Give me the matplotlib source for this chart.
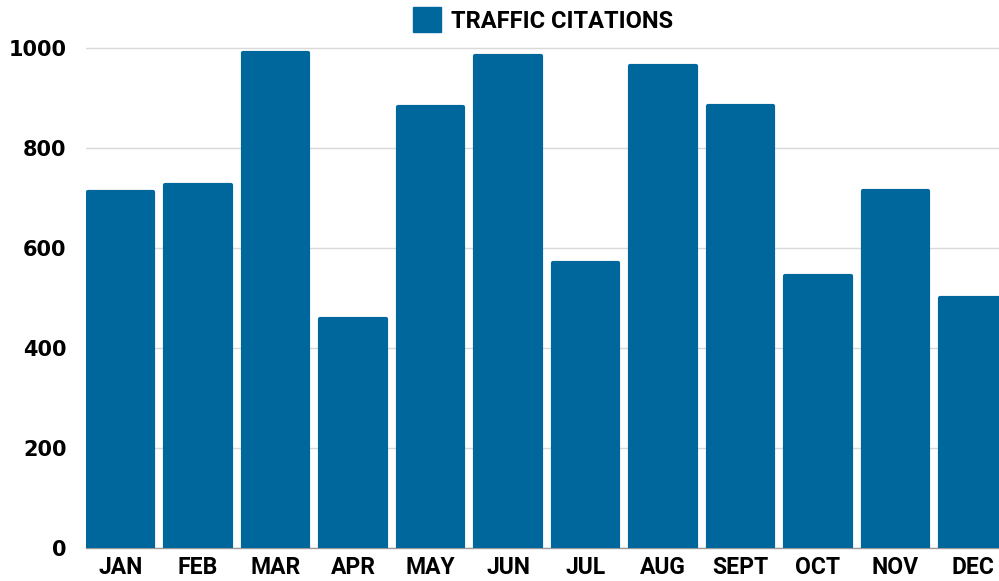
import matplotlib.pyplot as plt
from matplotlib.patches import Patch

months = ['JAN', 'FEB', 'MAR', 'APR', 'MAY', 'JUN', 'JUL', 'AUG', 'SEPT', 'OCT', 'NOV', 'DEC']
citations = [716, 730, 994, 462, 886, 988, 574, 968, 888, 548, 718, 504]
yticks = [0, 200, 400, 600, 800, 1000]

bar_color = '#00679d'
label_font = ['Roboto', 'DejaVu Sans']

fig = plt.figure(figsize=(9.99, 5.81), dpi=100)
# axes run off the right edge, so the DEC bar gets cut like in the original
ax = fig.add_axes([86 / 999, 33 / 581, 913 / 999, 548 / 581])

x = list(range(len(months)))
# thin round-joined edge gives the soft corners
ax.bar(x, [v - 4 for v in citations], width=0.84, color=bar_color,
       edgecolor=bar_color, linewidth=3, joinstyle='round', zorder=3)

ax.set_xlim(-0.445, 11.335)
ax.set_ylim(0, 1096)
ax.set_yticks(yticks)
ax.set_yticklabels([str(t) for t in yticks], fontsize=15, fontweight='bold',
                   family='DejaVu Sans')
ax.set_xticks(x)
ax.set_xticklabels(months, fontsize=16.5, fontweight='bold', family=label_font)
ax.tick_params(axis='both', length=0)
ax.tick_params(axis='y', pad=14)
ax.tick_params(axis='x', pad=6)

ax.grid(axis='y', color='#d9d9d9', linewidth=1, zorder=0)
for s in ['top', 'right', 'left']:
    ax.spines[s].set_visible(False)
ax.spines['bottom'].set_color('#9a9a9a')
ax.spines['bottom'].set_linewidth(1)

handle = Patch(facecolor=bar_color, edgecolor=bar_color)
fig.legend([handle], ['TRAFFIC CITATIONS'], loc='center', bbox_to_anchor=(543 / 999, 1 - 20 / 581),
           frameon=False, handlelength=1.2, handleheight=1.2, handletextpad=0.4,
           prop={'family': label_font, 'weight': 'bold', 'size': 17})

fig.savefig('out.png', dpi=100)
